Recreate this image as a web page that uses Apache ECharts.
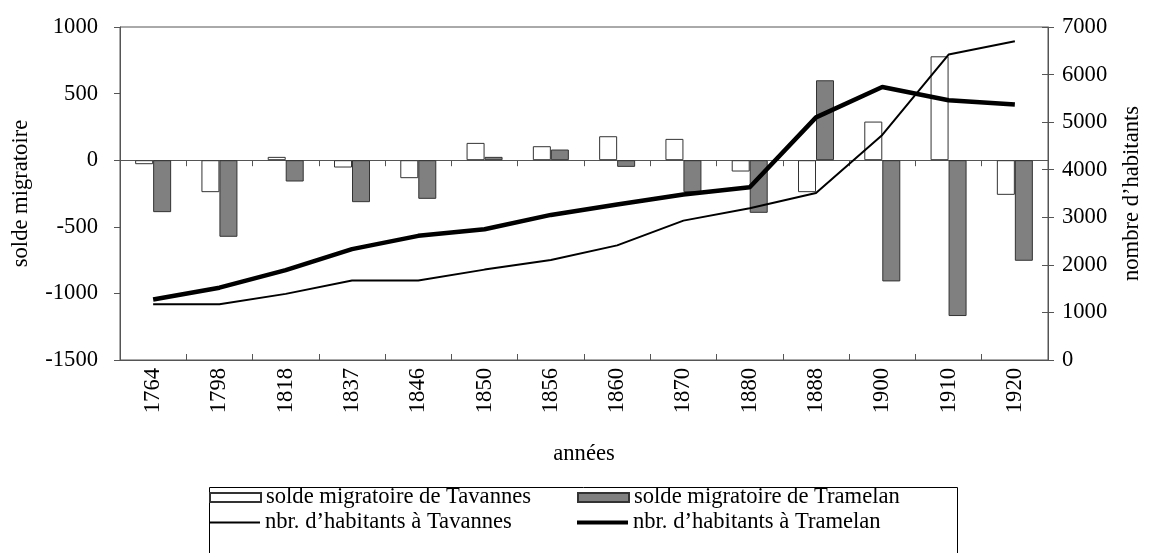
<!DOCTYPE html>
<html>
<head>
<meta charset="utf-8">
<script src="https://cdn.jsdelivr.net/npm/echarts@6/dist/echarts.min.js"></script>
<style>html,body{margin:0;padding:0;background:#fff;}#chart{width:1155px;height:553px;}</style>
</head>
<body>
<div id="chart"></div>
<script>
var years = ['1764','1798','1818','1837','1846','1850','1856','1860','1870','1880','1888','1900','1910','1920'];
var migTavannes = [-30, -240, 25, -55, -135, 130, 105, 180, 160, -85, -240, 290, 780, -260];
var migTramelan = [-390, -575, -160, -315, -290, 25, 80, -50, -240, -395, 600, -910, -1170, -755];
var popTavannes = [1170, 1170, 1390, 1670, 1670, 1900, 2100, 2410, 2930, 3190, 3510, 4730, 6420, 6700];
var popTramelan = [1270, 1520, 1890, 2330, 2610, 2750, 3050, 3270, 3480, 3630, 5100, 5740, 5460, 5370];

var names = ['solde migratoire de Tavannes', 'solde migratoire de Tramelan', 'nbr. d\u2019habitants à Tavannes', 'nbr. d\u2019habitants à Tramelan'];

var FONT = 'Liberation Serif';
var FS = 22.6;
var AX = '#555';
function plain(v) { return String(v); }
function leg(name, left, top, h) {
  return {orient: 'horizontal', left: left, top: top, padding: 0, itemGap: 0, itemWidth: 51, itemHeight: h,
    icon: 'rect', textStyle: {fontFamily: FONT, fontSize: FS, color: '#000', lineHeight: 22},
    data: [name]};
}
var chart = echarts.init(document.getElementById('chart'), null, {renderer: 'canvas'});
chart.setOption({
  animation: false,
  textStyle: {fontFamily: FONT, color: '#000'},
  grid: {left: 120, right: 107, top: 27, bottom: 193, show: true, borderColor: AX, borderWidth: 1, backgroundColor: 'transparent'},
  graphic: [{type: 'rect', left: 207, top: 485, shape: {width: 748, height: 90}, style: {fill: 'none', stroke: '#000', lineWidth: 1}, z: 0}],
  legend: [
    leg(names[0], 209, 486, 9),
    leg(names[1], 577, 486, 9),
    leg(names[2], 209, 511, 2),
    leg(names[3], 577, 511, 4)
  ],
  xAxis: [
    {type: 'category', data: years, position: 'bottom', boundaryGap: true,
     axisLine: {onZero: false, lineStyle: {color: AX}}, axisTick: {show: false},
     axisLabel: {rotate: 90, fontFamily: FONT, fontSize: FS, color: '#000', margin: 8},
     name: 'années', nameLocation: 'middle', nameGap: 83, nameTextStyle: {fontFamily: FONT, fontSize: FS, color: '#000'}},
    {type: 'category', data: years, position: 'bottom', boundaryGap: true,
     axisLine: {onZero: true, lineStyle: {color: AX}}, axisTick: {show: true, inside: false, length: 6, lineStyle: {color: AX}},
     axisLabel: {show: false}},
    {type: 'category', data: years, position: 'bottom', boundaryGap: true,
     axisLine: {onZero: true, show: false}, axisTick: {show: true, inside: true, length: 6, lineStyle: {color: AX}},
     axisLabel: {show: false}}
  ],
  yAxis: [
    {type: 'value', position: 'left', min: -1500, max: 1000, interval: 500,
     axisLine: {show: true, lineStyle: {color: AX}}, axisTick: {show: true, length: 6, lineStyle: {color: AX}},
     splitLine: {show: false},
     axisLabel: {fontFamily: FONT, fontSize: FS, color: '#000', margin: 22, formatter: plain},
     name: 'solde migratoire', nameLocation: 'middle', nameRotate: 90, nameGap: 87,
     nameTextStyle: {fontFamily: FONT, fontSize: FS, color: '#000'}},
    {type: 'value', position: 'right', min: 0, max: 7000, interval: 1000,
     axisLine: {show: true, lineStyle: {color: AX}}, axisTick: {show: true, length: 6, lineStyle: {color: AX}},
     splitLine: {show: false},
     axisLabel: {fontFamily: FONT, fontSize: FS, color: '#000', margin: 14, formatter: plain},
     name: 'nombre d\u2019habitants', nameLocation: 'middle', nameRotate: 90, nameGap: 73,
     nameTextStyle: {fontFamily: FONT, fontSize: FS, color: '#000'}},
    {type: 'value', position: 'right', min: 0, max: 7000, interval: 1000,
     axisLine: {show: false}, axisTick: {show: true, inside: true, length: 6, lineStyle: {color: AX}},
     splitLine: {show: false}, axisLabel: {show: false}}
  ],
  series: [
    {name: names[0], type: 'bar', xAxisIndex: 0, yAxisIndex: 0, data: migTavannes,
     barWidth: 18, barGap: '0%', itemStyle: {color: '#ffffff', borderColor: '#333', borderWidth: 1}},
    {name: names[1], type: 'bar', xAxisIndex: 0, yAxisIndex: 0, data: migTramelan,
     barWidth: 18, barGap: '0%', itemStyle: {color: '#808080', borderColor: '#333', borderWidth: 1}},
    {name: names[2], type: 'line', xAxisIndex: 0, yAxisIndex: 1, data: popTavannes,
     symbol: 'none', lineStyle: {color: '#000', width: 2}, itemStyle: {color: '#000'}, z: 5},
    {name: names[3], type: 'line', xAxisIndex: 0, yAxisIndex: 1, data: popTramelan,
     symbol: 'none', lineStyle: {color: '#000', width: 4.5}, itemStyle: {color: '#000'}, z: 6}
  ]
});
</script>
</body>
</html>
